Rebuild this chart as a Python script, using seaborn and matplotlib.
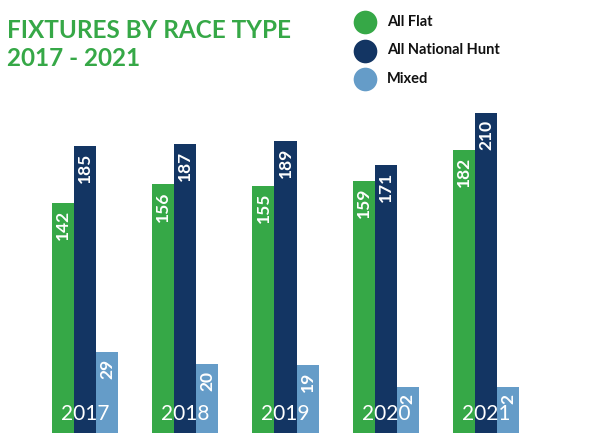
import pandas as pd
import matplotlib
matplotlib.use("Agg")
import matplotlib.pyplot as plt
import seaborn as sns

# data
years = ["2017", "2018", "2019", "2020", "2021"]
all_flat = [142, 156, 155, 159, 182]
national_hunt = [185, 187, 189, 171, 210]
mixed = [29, 20, 19, 2, 2]

types = ["All Flat", "All National Hunt", "Mixed"]
colors = ["#36a847", "#133563", "#659cc8"]

df = pd.DataFrame({
    "Year": years * 3,
    "Type": [types[0]] * 5 + [types[1]] * 5 + [types[2]] * 5,
    "Fixtures": all_flat + national_hunt + mixed,
})

sns.set_style("white")
plt.rcParams["font.family"] = ["Lato", "DejaVu Sans"]

fig = plt.figure(figsize=(6.08, 4.33), dpi=100)
ax = fig.add_axes([0, 0, 1, 1])

sns.barplot(data=df, x="Year", y="Fixtures", hue="Type", palette=colors,
            width=0.66, saturation=1, legend=False, linewidth=0, ax=ax)

# bars run on below the zero line so the year labels sit inside them
pad = 33
for p in ax.patches:
    h = p.get_height()
    p.set_y(-pad)
    p.set_height(h + pad)
    p.set_edgecolor("none")

for cont, vals in zip(ax.containers, [all_flat, national_hunt, mixed]):
    for bar, v in zip(cont, vals):
        x = bar.get_x() + bar.get_width() / 2
        ax.annotate(str(v), (x, v), xytext=(0, -5), textcoords="offset points",
                    rotation=90, ha="center", va="top", color="white",
                    fontsize=12.5, fontweight="bold")

for i, y in enumerate(years):
    ax.text(i, -18, y, ha="center", va="center", color="white", fontsize=15)

ax.set_xlim(-0.848, 5.217)
ax.set_ylim(-32.6, 296)
ax.axis("off")

fig.text(0.012, 0.955, "FIXTURES BY RACE TYPE\n2017 - 2021", color=colors[0],
         fontsize=17.5, fontweight="bold", va="top", ha="left", linespacing=1.25)

# legend with round markers
for i, (lab, c) in enumerate(zip(types, colors)):
    yy = 1 - (22 + 28.5 * i) / 433
    ax.scatter([365 / 608], [yy], s=290, color=c, transform=fig.transFigure,
               clip_on=False, linewidths=0)
    fig.text(387 / 608, yy, lab, fontsize=10.5, fontweight="bold",
             color="#111111", va="center", ha="left")

fig.savefig("out.png", dpi=100)
